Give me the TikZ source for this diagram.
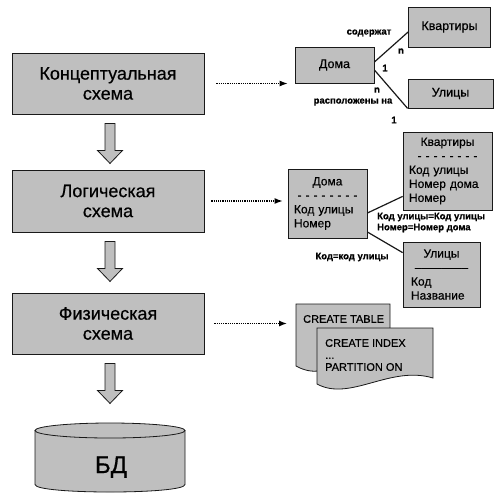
\documentclass[tikz,border=0pt]{standalone}
\usepackage{fontspec}
\setmainfont{Liberation Sans}[FakeBold=0.5]
\usetikzlibrary{arrows.meta,calc}
\newcommand\hdr[1]{\makebox[\linewidth]{#1}}

\begin{document}
\begin{tikzpicture}[x=1pt, y=-1pt,
  stage/.style={draw=black!90, fill=black!25, line width=0.9pt, minimum width=192,
    minimum height=61, align=center, font=\fontsize{18}{20}\selectfont},
  ent/.style={draw=black!90, fill=black!25, line width=0.8pt, font=\fontsize{12.5}{14}\selectfont},
  tbl/.style={ent, align=left, inner ysep=3, font=\fontsize{12}{14}\selectfont},
  lbl/.style={inner sep=0, font=\bfseries\fontsize{9.5}{11}\selectfont},
  code/.style={inner sep=0, font=\fontsize{11}{12}\selectfont},
  doc/.style={draw=black!90, fill=black!25, line width=0.8pt},
  hollow/.style={draw=black!90, fill=black!25, line width=0.8pt},
  link/.style={draw=black!90, line width=1.2pt},
  dotarrow/.style={densely dotted, line width=1.2pt, -{Latex[length=8pt,width=6pt]}}]
\useasboundingbox (0,0) rectangle (500,499);

% left column
\node (conc)  at (108,83.5) [stage] {Концептуальная\\схема};
\node (logic) at (108,201)  [stage, minimum height=62] {Логическая\\схема};
\node (phys)  at (108,323.5) [stage] {Физическая\\схема};

\foreach \u in {conc, logic, phys}
  \draw[hollow] ($(\u.south)+(-3,9)$) -- ++(10,0) -- ++(0,27) -- ++(7.5,0)
    -- ++(-12.5,13) -- ++(-12.5,-13) -- ++(7.5,0) -- cycle;

\draw[hollow] (35,430.5) -- (35,484.5) .. controls (35,494.5) and (185,494.5) .. (185,484.5)
  -- (185,430.5);
\draw[hollow] (110,430.5) ellipse [x radius=75, y radius=7.5];
\node (db) at (111,473) [anchor=base, font=\fontsize{24}{26}\selectfont] {БД};

% conceptual
\node (cdom) at (334.5,65)  [ent, minimum width=79, minimum height=36] {Дома};
\node (ckv)  at (449.5,27)  [ent, minimum width=82, minimum height=40] {Квартиры};
\node (cul)  at (450.5,93.5) [ent, minimum width=85, minimum height=29] {Улицы};
\draw[link] ($(cdom.east)+(0,-3)$) -- ($(ckv.west)+(0,5)$);
\draw[link] ($(cdom.east)+(0,5)$) -- (cul.south west);
\node (lcont) at (369,33)  [lbl] {содержат};
\node (nkv)   at (401,51)  [lbl] {n};
\node (onekv) at (385,68)  [lbl] {1};
\node (ndom)  at (377,90)  [lbl] {n};
\node (lloc)  at (353,102) [lbl] {расположены на};
\node (oneul) at (394,120) [lbl] {1};

% logical
\node (ldom) at (327.5,203.5) [tbl, text width=67, inner xsep=6, minimum height=69]
  {\hdr{Дома}\\\hdr{- - - - - - - -}\\Код улицы\\Номер};
\node (lkv) at (447.5,171) [tbl, text width=77, inner xsep=6, minimum height=78]
  {\hdr{Квартиры}\\\hdr{- - - - - - - -}\\Код улицы\\Номер дома\\Номер};
\node (lul) at (441.5,274.5) [tbl, text width=61, inner xsep=8, minimum height=65]
  {\hdr{Улицы}\\\hdr{––––––––}\\Код\\Название};
\draw[link] ($(ldom.east)+(0,9.5)$) -- ($(lkv.south west)+(0,-14)$);
\draw[link] ($(ldom.east)+(0,28.5)$) -- ($(lul.north west)+(0,11)$);
\node (keyskv) at (377,222.5) [lbl, anchor=west, align=left] {Код улицы=Код улицы\\Номер=Номер дома};
\node (keysul) at (352,257) [lbl] {Код=код улицы};

% physical
\draw[doc] (296,304) -- (390,304) -- (390,360) .. controls (350,345) and (330,385) .. (296,366) -- cycle;
\draw[doc] (317,328) -- (433,328) -- (433,378) .. controls (390,365) and (350,402) .. (317,384) -- cycle;
\coordinate (docs) at (296,321);
\node (ctab) at (303,319) [code, anchor=west] {CREATE TABLE};
\node (cidx) at (325,355) [code, anchor=west, align=left] {CREATE INDEX\\...\\PARTITION ON};

\draw[dotarrow, shorten <=12pt, shorten >=7pt] (conc.east) -- (conc.east -| cdom.west);
\draw[dotarrow, shorten <=7pt, shorten >=5pt] (logic.east) -- (logic.east -| ldom.west);
\draw[dotarrow, shorten <=10pt, shorten >=9pt] (phys.east) -- (phys.east -| docs);
\end{tikzpicture}
\end{document}
